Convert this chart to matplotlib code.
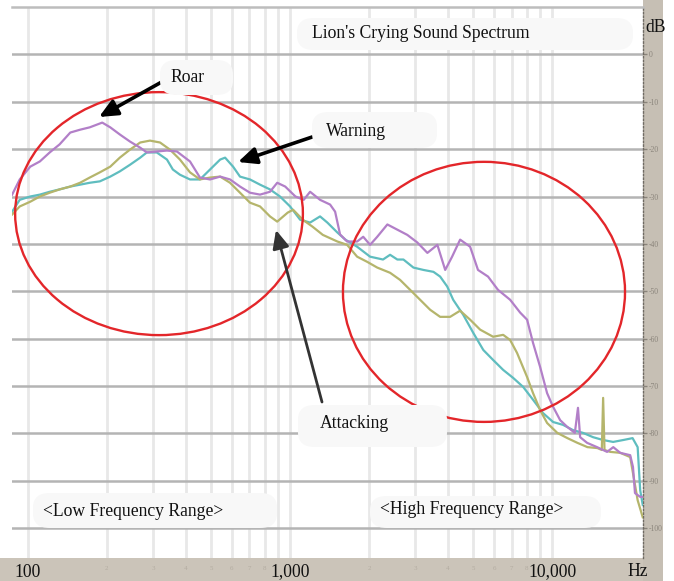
import matplotlib
matplotlib.use("Agg")
import matplotlib.pyplot as plt
from matplotlib.patches import Ellipse, FancyBboxPatch, Rectangle
from matplotlib.ticker import FixedLocator, FixedFormatter

# ---------------- data ----------------
roar_hz = [87, 93, 102, 111, 121, 132, 145, 158, 172, 192, 206, 224, 245, 268, 284, 310, 339, 370,
           415, 453, 495, 541, 590, 644, 703, 768, 838, 893, 958, 1048, 1127, 1192, 1301, 1421,
           1485, 1551, 1650, 1802, 1901, 2019, 2150, 2350, 2565, 2800, 3057, 3340, 3646, 3906,
           4150, 4453, 4862, 5210, 5690, 6210, 6911, 7545, 8020, 8450, 8995, 9560, 10080, 10720,
           11400, 12200, 12540, 12780, 13590, 14830, 16190, 17100, 18170, 19840, 20330, 20690,
           21660, 22150]
roar_db = [-29.6, -26.4, -23.7, -22.6, -20.7, -19.0, -16.5, -15.9, -15.4, -14.4, -15.4, -16.9, -18.4,
           -19.7, -20.7, -20.5, -20.3, -20.5, -22.6, -26.0, -26.4, -25.8, -26.4, -27.9, -29.2, -29.6,
           -29.0, -27.1, -27.9, -30.0, -30.7, -29.0, -30.7, -31.7, -33.2, -38.0, -39.5, -39.5, -38.5,
           -40.2, -38.5, -35.9, -37.0, -38.1, -39.7, -41.9, -40.2, -45.5, -42.7, -39.1, -40.6, -45.5,
           -46.9, -49.7, -51.8, -54.5, -56.0, -60.9, -66.0, -71.5, -74.4, -77.2, -78.6, -79.9, -74.6,
           -80.8, -82.0, -82.9, -83.9, -82.9, -84.1, -84.6, -87.1, -92.6, -93.4, -93.4]

warning_hz = [87, 93, 102, 111, 121, 132, 145, 158, 172, 188, 206, 224, 245, 268, 284, 310, 339, 357,
              380, 415, 453, 495, 541, 565, 606, 644, 703, 768, 838, 915, 1000, 1092, 1192, 1301,
              1387, 1515, 1625, 1802, 2019, 2262, 2407, 2565, 2706, 2955, 3227, 3523, 3736, 3976,
              4190, 4580, 5000, 5460, 5950, 6500, 7100, 7750, 8450, 9220, 10080, 11000, 12000,
              13120, 14320, 15640, 17080, 18650, 20260, 21180, 21660, 22150]
warning_db = [-33.2, -30.7, -30.0, -29.6, -29.0, -28.5, -27.9, -27.5, -27.1, -26.8, -25.8, -24.7,
              -23.3, -21.8, -20.7, -20.7, -22.2, -24.3, -25.4, -26.4, -26.4, -24.3, -22.2, -21.8,
              -23.7, -25.8, -26.4, -27.5, -28.5, -30.0, -32.1, -34.9, -35.5, -34.2, -35.5, -37.6,
              -39.1, -40.6, -42.7, -43.3, -42.3, -43.3, -43.3, -45.0, -45.5, -45.9, -46.9, -49.0,
              -51.8, -55.0, -58.8, -62.4, -64.5, -66.6, -68.3, -70.2, -72.9, -75.7, -77.6, -78.2,
              -79.3, -79.9, -80.8, -81.4, -81.8, -81.4, -81.0, -82.9, -92.0, -95.1]

attack_hz = [87, 93, 102, 111, 121, 132, 145, 158, 172, 188, 206, 224, 245, 268, 292, 319, 348, 380,
             415, 453, 495, 541, 590, 644, 703, 768, 838, 893, 979, 1027, 1118, 1220, 1333, 1515,
             1650, 1802, 1970, 2150, 2407, 2628, 2870, 3134, 3421, 3736, 4079, 4453, 4862, 5309,
             5950, 6500, 6911, 7340, 8020, 8450, 8995, 9560, 10460, 11430, 12480, 13630, 14880,
             15460, 15640, 15830, 16640, 18170, 19840, 21180, 22150]
attack_db = [-33.8, -32.1, -31.1, -30.0, -29.2, -28.5, -27.9, -27.1, -26.0, -24.9, -23.7, -21.8,
             -20.1, -18.6, -18.2, -18.6, -20.1, -22.2, -24.9, -26.4, -26.0, -25.8, -27.1, -29.2,
             -31.3, -32.1, -34.2, -35.3, -33.4, -32.8, -34.9, -36.4, -38.1, -39.5, -40.2, -42.7,
             -43.8, -45.0, -46.1, -47.6, -49.7, -51.8, -53.9, -55.4, -55.4, -54.1, -56.0, -58.1,
             -59.6, -59.2, -60.3, -63.0, -68.1, -71.5, -75.1, -77.8, -79.9, -81.0, -82.0, -82.9,
             -83.1, -83.5, -72.5, -83.5, -83.9, -84.1, -85.0, -94.1, -97.7]

x_major = [100, 1000, 10000]
x_major_labels = ["100", "1,000", "10,000"]
x_minor = [200, 300, 400, 500, 600, 700, 800, 900,
           2000, 3000, 4000, 5000, 6000, 7000, 8000, 9000]
x_minor_labels = ["2", "3", "4", "5", "6", "7", "8", ""] * 2
y_ticks = [0, -10, -20, -30, -40, -50, -60, -70, -80, -90, -100]
y_tick_labels = ["0", "-10", "-20", "-30", "-40", "-50", "-60", "-70", "-80", "-90", "-100"]

# ---------------- figure ----------------
W, H = 674, 581
plt.rcParams['font.family'] = ['Liberation Serif', 'DejaVu Serif']
fig = plt.figure(figsize=(W / 100, H / 100), dpi=100)
fig.patch.set_facecolor('white')

def fx(x):
    return x / W

def fy(y):
    return 1 - y / H

# strips (behind the axes)
fig.patches.append(Rectangle((0, 0), fx(663), 23 / H, transform=fig.transFigure,
                             facecolor='#cbc4b9', edgecolor='none', zorder=-5))
fig.patches.append(Rectangle((fx(643), 0), 20 / W, 1, transform=fig.transFigure,
                             facecolor='#c6bfb4', edgecolor='none', zorder=-5))

ax = fig.add_axes([fx(12), 23 / H, 631 / W, 551 / H])
ax.set_xscale('log')
ax.set_xlim(86.9, 22200)
ax.set_ylim(-106.3, 10)

ax.xaxis.set_major_locator(FixedLocator(x_major))
ax.xaxis.set_major_formatter(FixedFormatter(x_major_labels))
ax.xaxis.set_minor_locator(FixedLocator(x_minor))
ax.xaxis.set_minor_formatter(FixedFormatter(x_minor_labels))
ax.yaxis.set_major_locator(FixedLocator(y_ticks))
ax.yaxis.set_major_formatter(FixedFormatter(y_tick_labels))

ax.grid(True, axis='x', which='both', color='#e8e8e8', lw=2.0, zorder=0)
ax.grid(True, axis='y', which='major', color='#b4b4b4', lw=1.8, zorder=0)
ax.set_axisbelow(True)

ax.tick_params(axis='x', which='major', length=0, pad=4, labelsize=12.7, labelcolor='#111111')
ax.tick_params(axis='x', which='minor', length=0, pad=6, labelsize=5, labelcolor='#b3aca1')
ax.tick_params(axis='y', which='major', left=False, labelleft=False, right=True, labelright=True,
               length=3, width=1, color='#8a847b', pad=1, labelsize=5.5, labelcolor='#8a847b')

for s in ['left', 'bottom']:
    ax.spines[s].set_visible(False)
ax.spines['top'].set_color('#bdbdbd')
ax.spines['top'].set_linewidth(1.8)
ax.spines['right'].set_color('#6f6a63')
ax.spines['right'].set_linestyle(':')
ax.spines['right'].set_linewidth(1.0)

# curves
ax.plot(warning_hz, warning_db, color='#5fbdbf', lw=1.6, zorder=3)
ax.plot(attack_hz, attack_db, color='#b5b56c', lw=1.6, zorder=3)
ax.plot(roar_hz, roar_db, color='#b27fc8', lw=1.6, zorder=4)

# ellipses (axes fraction)
for (cx, cy, w, h) in [(0.233, 0.625, 0.456, 0.441), (0.748, 0.483, 0.447, 0.472)]:
    ax.add_patch(Ellipse((cx, cy), w, h, transform=ax.transAxes, fill=False,
                         edgecolor='#e3262a', lw=1.7, zorder=6, clip_on=False))

# label boxes
def box(x0, y0, x1, y1):
    fig.patches.append(FancyBboxPatch((fx(x0), fy(y1)), (x1 - x0) / W, (y1 - y0) / H,
                                      boxstyle='round,pad=0,rounding_size=0.025',
                                      transform=fig.transFigure, facecolor='#f8f8f8',
                                      edgecolor='none', zorder=2))

box(297, 18, 633, 50)
box(160, 60, 233, 95)
box(312, 112, 437, 148)
box(298, 405, 447, 447)
box(33, 493, 277, 528)
box(370, 496, 601, 528)

txt = dict(fontsize=12.7, color='#111111', va='center', ha='left', zorder=10)
fig.text(fx(312), fy(33), "Lion's Crying Sound Spectrum", **txt)
fig.text(fx(170), fy(78), "Roar", **txt)
fig.text(fx(326), fy(131), "Warning", **txt)
fig.text(fx(320), fy(424), "Attacking", **txt)
fig.text(fx(43), fy(511), "<Low Frequency Range>", **txt)
fig.text(fx(380), fy(510), "<High Frequency Range>", **txt)
fig.text(fx(627), fy(571), "Hz", **txt)
fig.text(fx(645), fy(27), "dB", **txt)

# arrows (figure pixels)
def arrow(tail, tip, lw=2.6, col='black'):
    ax.annotate('', xy=(tip[0], H - tip[1]), xycoords='figure pixels',
                xytext=(tail[0], H - tail[1]), textcoords='figure pixels',
                arrowprops=dict(arrowstyle='-|>,head_length=1.1,head_width=0.5',
                                lw=lw, color=col, shrinkA=0, shrinkB=0),
                annotation_clip=False, zorder=8)

arrow((167, 79), (99, 117))
arrow((324, 133), (238, 162))
arrow((322, 402), (276, 230), lw=2.0, col='#333333')

fig.savefig('out.png', dpi=100, facecolor='white')
